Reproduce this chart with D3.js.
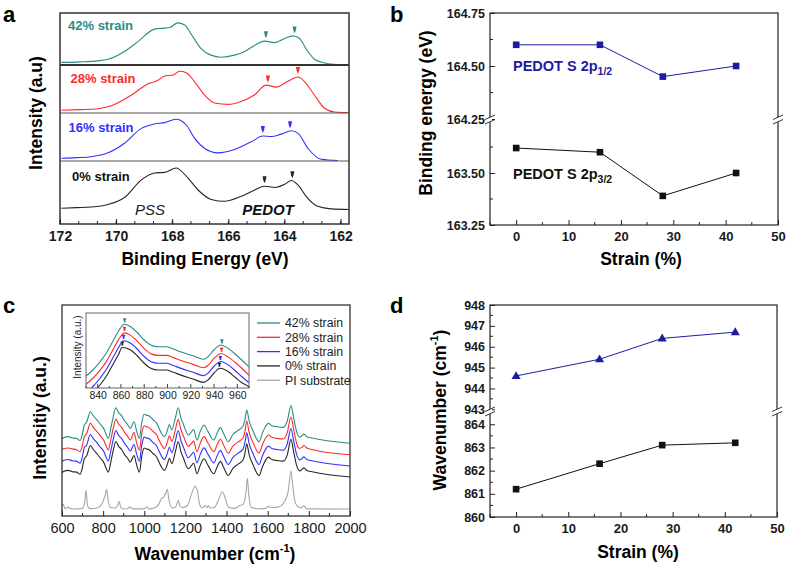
<!DOCTYPE html>
<html><head><meta charset="utf-8">
<script src="https://cdn.jsdelivr.net/npm/d3@7"></script>
<style>body{margin:0;background:#fff}svg{display:block;font-family:"Liberation Sans",Arial,sans-serif}</style>
</head><body><script>
// ---------------- DATA ----------------
// Panel a: XPS S2p spectra (binding energy eV, normalized intensity within strip)
const xps42 = [[171.95,0.05],[171.3,0.06],[170.65,0.08],[170.29,0.11],[169.70,0.26],[169.22,0.45],[168.63,0.69],[168.27,0.71],[168.09,0.72],[167.80,0.81],[167.56,0.77],[167.26,0.54],[166.98,0.32],[166.62,0.19],[166.26,0.15],[165.78,0.19],[165.42,0.26],[165.06,0.38],[164.71,0.46],[164.35,0.43],[163.99,0.51],[163.70,0.56],[163.46,0.51],[163.24,0.32],[162.93,0.11],[162.57,0.04],[162.10,0.01]];
const xps28 = [[171.95,0.056],[171.3,0.07],[170.65,0.09],[170.17,0.15],[169.46,0.37],[168.86,0.61],[168.51,0.68],[168.27,0.77],[167.97,0.79],[167.74,0.87],[167.50,0.84],[167.20,0.65],[166.84,0.37],[166.49,0.21],[166.01,0.18],[165.54,0.24],[165.06,0.38],[164.65,0.58],[164.29,0.54],[163.88,0.66],[163.52,0.75],[163.28,0.65],[162.93,0.37],[162.57,0.10],[162.21,0.02],[161.74,0.01]];
const xps16 = [[171.95,0.056],[171.4,0.07],[170.88,0.09],[170.29,0.17],[169.70,0.37],[169.10,0.68],[168.63,0.77],[168.27,0.80],[167.86,0.87],[167.50,0.75],[167.20,0.47],[166.84,0.26],[166.37,0.17],[165.78,0.24],[165.18,0.40],[164.77,0.52],[164.47,0.51],[164.12,0.56],[163.76,0.63],[163.52,0.58],[163.16,0.26],[162.69,0.035],[162.10,0.01]];
const xps0 = [[171.95,0.25],[171.4,0.26],[170.88,0.27],[170.29,0.31],[169.70,0.42],[169.10,0.70],[168.63,0.81],[168.27,0.82],[167.86,0.89],[167.50,0.76],[167.08,0.54],[166.61,0.39],[166.13,0.36],[165.54,0.44],[165.06,0.54],[164.71,0.60],[164.35,0.58],[163.99,0.63],[163.76,0.69],[163.52,0.62],[163.23,0.44],[162.81,0.28],[162.34,0.24],[161.69,0.23]];
const xpsLabels = ["42% strain","28% strain","16% strain","0% strain"];
const xpsMarks = [[164.66,163.64],[164.59,163.52],[164.77,163.80],[164.71,163.72]];
const xTicksA = [172,170,168,166,164,162];

// Panel b: binding energy vs strain
const strain = [0,16,28,42];
const be12 = [164.60,164.60,164.45,164.50];
const be32 = [163.62,163.60,163.39,163.50];
const yTicksBup = [164.25,164.50,164.75];
const yTicksBlo = [163.25,163.50];
const xTicksStrain = [0,10,20,30,40,50];

// Panel c: Raman spectra (wavenumber cm-1, a.u. incl. stacking)
const raman42 = [[600,36.5],[610,37.2],[630,37.6],[650,37],[670,36.8],[688,35.8],[698,38.5],[708,43],[720,44.5],[738,49.4],[752,47.5],[770,45.5],[790,43],[805,41],[815,38.5],[825,36.8],[838,42],[850,47.5],[862,51.3],[875,49],[890,47.5],[905,45],[918,43.5],[932,41.6],[950,44.7],[962,40.5],[976,36.8],[988,44.5],[999,48.2],[1010,47.8],[1022,47.5],[1044,45.5],[1060,44],[1072,41.5],[1088,38.5],[1098,37.6],[1112,40.5],[1122,43.4],[1134,40.8],[1150,46],[1165,51.3],[1178,46.5],[1192,43],[1214,38.4],[1230,40],[1240,41],[1256,36],[1272,40],[1290,43.1],[1310,40],[1338,36],[1355,39.5],[1370,41.9],[1386,39],[1408,35.2],[1430,38.5],[1455,40.5],[1480,42.5],[1490,46],[1498,50.2],[1510,45],[1530,40],[1558,35.2],[1575,39.5],[1590,42.5],[1603,43.9],[1620,42.8],[1645,42.3],[1676,42],[1695,45],[1713,52.3],[1726,46.5],[1742,39.5],[1755,37.4],[1766,38],[1776,38.8],[1790,37.6],[1810,37.1],[2000,34.5]];
const raman28 = [[600,31.5],[610,32],[630,32.2],[650,31.8],[670,31.4],[688,30.5],[698,33],[708,37.5],[720,39],[738,44],[752,42],[770,40],[790,37.5],[805,35.5],[815,33],[825,31.3],[838,36.5],[850,42],[862,46],[875,43.5],[890,42],[905,39.5],[918,38],[932,36],[950,39.5],[962,35],[976,31.2],[988,39],[999,42.8],[1010,42.3],[1022,42],[1044,40],[1060,38.5],[1072,36],[1088,33],[1098,32],[1112,35],[1122,38],[1134,35.3],[1150,40.5],[1165,45.8],[1178,41],[1192,37.5],[1214,33],[1230,34.5],[1240,35.5],[1256,30.5],[1272,34.5],[1290,37.6],[1310,34.5],[1338,30.5],[1355,34],[1370,36.4],[1386,33.5],[1408,29.8],[1430,33],[1455,35],[1480,37],[1490,40.5],[1498,45],[1510,39.5],[1530,34.5],[1558,29.8],[1575,34],[1590,37],[1603,38.4],[1620,37.3],[1645,36.8],[1676,36.5],[1695,39.5],[1713,46.9],[1726,41],[1742,34],[1755,32],[1766,32.5],[1776,33.4],[1790,32.2],[1810,31.6],[2000,29]];
const raman16 = [[600,25.8],[610,26.4],[630,26.8],[650,26.2],[670,26],[688,25],[698,27.7],[708,32.2],[720,33.7],[738,38.6],[752,36.7],[770,34.7],[790,32.2],[805,30.2],[815,27.7],[825,26],[838,31.2],[850,36.7],[862,40.5],[875,38.2],[890,36.7],[905,34.2],[918,32.7],[932,30.8],[950,33.9],[962,29.7],[976,26],[988,33.7],[999,37.4],[1010,37],[1022,36.7],[1044,34.7],[1060,33.2],[1072,30.7],[1088,27.7],[1098,26.8],[1112,29.7],[1122,32.6],[1134,30],[1150,35.2],[1165,40.5],[1178,35.7],[1192,32.2],[1214,27.6],[1230,29.2],[1240,30.2],[1256,25.2],[1272,29.2],[1290,32.3],[1310,29.2],[1338,25.2],[1355,28.7],[1370,31.1],[1386,28.2],[1408,24.4],[1430,27.7],[1455,29.7],[1480,31.7],[1490,35.2],[1498,39.4],[1510,34.2],[1530,29.2],[1558,24.4],[1575,28.7],[1590,31.7],[1603,33.1],[1620,32],[1645,31.5],[1676,31.2],[1695,34.2],[1713,41.5],[1726,35.7],[1742,28.7],[1755,26.6],[1766,27.2],[1776,28],[1790,26.8],[1810,26.3],[2000,23.7]];
const raman0 = [[600,20.5],[610,21.2],[630,21.6],[650,21],[670,20.8],[688,19.8],[698,22.5],[708,27],[720,28.5],[738,33.4],[752,31.5],[770,29.5],[790,27],[805,25],[815,22.5],[825,20.8],[838,26],[850,31.5],[862,35.3],[875,33],[890,31.5],[905,29],[918,27.5],[932,25.6],[950,28.7],[962,24.5],[976,20.8],[988,28.5],[999,32.2],[1010,31.8],[1022,31.5],[1044,29.5],[1060,28],[1072,25.5],[1088,22.5],[1098,21.6],[1112,24.5],[1122,27.4],[1134,24.8],[1150,30],[1165,35.3],[1178,30.5],[1192,27],[1214,22.4],[1230,24],[1240,25],[1256,20],[1272,24],[1290,27.1],[1310,24],[1338,20],[1355,23.5],[1370,25.9],[1386,23],[1408,19.2],[1430,22.5],[1455,24.5],[1480,26.5],[1490,30],[1498,34.2],[1510,29],[1530,24],[1558,19.2],[1575,23.5],[1590,26.5],[1603,27.9],[1620,26.8],[1645,26.3],[1676,26],[1695,29],[1713,36.3],[1726,30.5],[1742,23.5],[1755,21.4],[1766,22],[1776,22.8],[1790,21.6],[1810,21.1],[2000,18.5]];
const ramanPI = [[600,5],[606,5.5],[615,3.5],[630,4.2],[640,3.5],[660,3.3],[700,3.6],[710,6],[717,12.2],[724,5],[735,3.5],[770,3.8],[790,5],[800,7],[810,10],[817,12.6],[825,7],[835,4],[860,3.8],[870,5],[878,6.8],[886,4],[900,3.3],[920,3.6],[930,4.2],[945,3.4],[1000,3.4],[1012,4.4],[1022,3.4],[1050,3.8],[1070,5.5],[1085,8.5],[1095,9],[1105,11],[1112,12.6],[1120,7.5],[1135,3.8],[1150,4],[1160,6],[1166,7.4],[1172,5],[1185,4],[1210,5],[1230,10.5],[1247,14.1],[1258,12],[1268,6],[1280,3.8],[1296,4.8],[1305,4],[1312,5],[1320,3.8],[1340,4],[1360,7.5],[1380,11.5],[1395,8],[1410,4],[1440,3.6],[1460,4.8],[1480,5.5],[1494,11],[1501,17.9],[1508,10],[1520,4],[1560,3.4],[1590,3.6],[1603,4.6],[1620,4],[1650,4.2],[1680,6.5],[1700,12],[1713,21.3],[1722,14],[1735,6],[1760,3.8],[1776,4.8],[1790,3.4],[2000,3.3]];
const ramanLegend = ["42% strain","28% strain","16% strain","0% strain","PI substrate"];
const xTicksC = [600,800,1000,1200,1400,1600,1800,2000];
// inset
const inset42 = [[830,16],[836,24],[842,35],[848,48],[853,62],[858,76],[863,85],[868,82],[874,74],[880,64],[886,57],[892,55],[899,55],[905,52],[911,48.4],[922,43],[931,38.3],[935,42],[940,51],[946,57.3],[952,53],[959,44],[964,37],[970,28]];
const inset28 = [[830,5],[836,13],[842,23.5],[848,36.5],[853,50.5],[858,64.5],[863,73.5],[868,70.5],[874,62.5],[880,52.5],[886,45.5],[892,43.5],[899,43.5],[905,40.5],[911,37],[922,31.5],[931,27],[935,30.5],[940,39.5],[946,46],[952,41.5],[959,33],[964,26],[970,17]];
const inset16 = [[830,-6],[836,2],[842,13],[848,26],[853,40],[858,54],[862,63],[868,60],[874,52],[880,42],[886,35],[892,33],[899,33],[905,30],[911,26.5],[922,21],[931,16.5],[935,20],[940,29],[946,35.3],[952,31],[959,22],[964,15],[970,7]];
const inset0 = [[830,-15],[836,-6],[842,4],[848,17],[853,31],[858,45],[861,54],[868,51],[874,43],[880,33],[886,26],[892,24],[899,24],[905,21],[911,17.5],[922,12],[931,7.5],[935,11],[940,20],[945,26.3],[952,22],[959,13],[964,7],[970,2]];
const xTicksInset = [840,860,880,900,920,940,960];

// Panel d: Raman peak positions vs strain
const peak862 = [861.2,862.3,863.1,863.2];
const peak946 = [944.6,945.4,946.4,946.7];
const yTicksDup = [943,944,945,946,947,948];
const yTicksDlo = [860,861,862,863,864];

// ---------------- STYLE ----------------
const cTeal="#2b8c86", cRed="#ff2a2a", cBlue="#3030ff", cBlack="#262626", cGrey="#a6a6a6", cNavy="#1c1ca0";
const FONT='"Liberation Sans",Arial,sans-serif';

const svg = d3.select("body").append("svg").attr("width",787).attr("height",567);

function valAt(arr,x){ // linear read of a series at x
  const s = arr.slice().sort((a,b)=>a[0]-b[0]);
  const xs = s.map(d=>d[0]), ys = s.map(d=>d[1]);
  return d3.scaleLinear().domain(xs).range(ys)(x);
}
function styleAxis(g,size,weight){
  g.select(".domain").remove();
  g.selectAll(".tick line").attr("stroke","#222");
  g.selectAll("text").attr("font-family",FONT).attr("font-size",size).attr("font-weight",weight).attr("fill","#1a1a1a");
}
function panelLetter(t,x,y){svg.append("text").attr("x",x).attr("y",y).text(t).attr("font-size",22).attr("font-weight","bold").attr("font-family",FONT);}
function downMark(g,x,y,color){ // small down-pointing arrow mark with tip at (x,y)
  g.append("path").attr("d",`M${x-2},${y-7}L${x+2},${y-7}L${x+1.2},${y-3}L${x},${y}L${x-1.2},${y-3}Z`).attr("fill",color);
}

// ---------------- PANEL A ----------------
{
  const g = svg.append("g");
  const xA = d3.scaleLinear().domain([172,161.7]).range([60,349]);
  const bounds = [[13,65],[65,113],[113,161],[161,224]];
  const series = [xps42,xps28,xps16,xps0];
  const cols = [cTeal,cRed,cBlue,cBlack];
  const labelPos = [[68,29.5],[70.5,82.5],[68.5,131.5],[72,181]];
  series.forEach((s,i)=>{
    const y = d3.scaleLinear().domain([0,1]).range([bounds[i][1],bounds[i][0]]);
    g.append("path").datum(s).attr("fill","none").attr("stroke",cols[i]).attr("stroke-width",1.1)
      .attr("d",d3.line().x(d=>xA(d[0])).y(d=>y(d[1])).curve(d3.curveMonotoneX));
    xpsMarks[i].forEach(e=>downMark(g,xA(e),y(valAt(s,e))-3,cols[i]));
    g.append("text").attr("x",labelPos[i][0]).attr("y",labelPos[i][1]).text(xpsLabels[i])
      .attr("fill",i==3?"#111":cols[i]).attr("font-size",13).attr("font-weight","bold").attr("font-family",FONT);
  });
  g.append("line").attr("x1",60).attr("x2",349).attr("y1",65).attr("y2",65).attr("stroke","#333").attr("stroke-width",2);
  g.append("line").attr("x1",60).attr("x2",349).attr("y1",113).attr("y2",113).attr("stroke","#555").attr("stroke-width",1);
  g.append("line").attr("x1",60).attr("x2",349).attr("y1",161).attr("y2",161).attr("stroke","#555").attr("stroke-width",1);
  g.append("rect").attr("x",60).attr("y",13).attr("width",289).attr("height",211).attr("fill","none").attr("stroke","#333").attr("stroke-width",1.5);
  // minor ticks
  d3.range(0,16).map(i=>172-i*2/3).filter(v=>v>161.7).forEach(v=>{
    g.append("line").attr("x1",xA(v)).attr("x2",xA(v)).attr("y1",224).attr("y2",221).attr("stroke","#222");
  });
  const ax = g.append("g").attr("transform","translate(0,224)")
    .call(d3.axisBottom(xA).tickValues(xTicksA).tickFormat(d3.format("d")).tickSizeInner(-5).tickSizeOuter(0).tickPadding(7));
  styleAxis(ax,14,"bold");
  g.append("text").attr("x",150).attr("y",215).text("PSS").attr("font-style","italic").attr("font-size",15).attr("font-family",FONT).attr("text-anchor","middle").attr("fill","#222");
  g.append("text").attr("x",268).attr("y",215).text("PEDOT").attr("font-style","italic").attr("font-weight","bold").attr("font-size",15).attr("font-family",FONT).attr("text-anchor","middle").attr("fill","#111");
  g.append("text").attr("x",205).attr("y",265).text("Binding Energy (eV)").attr("font-size",17.5).attr("font-weight","bold").attr("font-family",FONT).attr("text-anchor","middle");
  g.append("text").attr("transform","translate(42,113) rotate(-90)").text("Intensity (a.u)").attr("font-size",17.5).attr("font-weight","bold").attr("font-family",FONT).attr("text-anchor","middle");
  panelLetter("a",3,22);
}

// ---------------- broken-axis scatter panel helper ----------------
function brokenPanel(opts){
  const g = svg.append("g");
  const {x0,x1,top,bot,brk,upDom,loDom,upRange,loRange} = opts;
  const x = d3.scaleLinear().domain([-5,50]).range([x0,x1]);
  const yU = d3.scaleLinear().domain(upDom).range(upRange);
  const yL = d3.scaleLinear().domain(loDom).range(loRange);
  g.append("rect").attr("x",x0).attr("y",top).attr("width",x1-x0).attr("height",bot-top).attr("fill","none").attr("stroke","#333").attr("stroke-width",1.3);
  const axU = g.append("g").attr("transform",`translate(${x0},0)`).call(d3.axisLeft(yU).tickValues(opts.upTicks).tickFormat(opts.fmt).tickSizeInner(-5).tickSizeOuter(0).tickPadding(5));
  const axL = g.append("g").attr("transform",`translate(${x0},0)`).call(d3.axisLeft(yL).tickValues(opts.loTicks).tickFormat(opts.fmt).tickSizeInner(-5).tickSizeOuter(0).tickPadding(5));
  styleAxis(axU,12.5,"bold"); styleAxis(axL,12.5,"bold");
  opts.upMinor.forEach(v=>g.append("line").attr("x1",x0).attr("x2",x0+3).attr("y1",yU(v)).attr("y2",yU(v)).attr("stroke","#222"));
  opts.loMinor.forEach(v=>g.append("line").attr("x1",x0).attr("x2",x0+3).attr("y1",yL(v)).attr("y2",yL(v)).attr("stroke","#222"));
  const axX = g.append("g").attr("transform",`translate(0,${bot})`).call(d3.axisBottom(x).tickValues(xTicksStrain).tickSizeInner(-5).tickSizeOuter(0).tickPadding(7));
  styleAxis(axX,13,"bold");
  [-5,5,15,25,35,45].forEach(v=>g.append("line").attr("x1",x(v)).attr("x2",x(v)).attr("y1",bot).attr("y2",bot-3).attr("stroke","#222"));
  [x0,x1].forEach(xx=>{
    g.append("rect").attr("x",xx-2).attr("y",brk-3).attr("width",4).attr("height",5).attr("fill","#fff");
    g.append("line").attr("x1",xx-5).attr("x2",xx+5).attr("y1",brk-0.5).attr("y2",brk-5).attr("stroke","#333");
    g.append("line").attr("x1",xx-5).attr("x2",xx+5).attr("y1",brk+4).attr("y2",brk-0.5).attr("stroke","#333");
  });
  const lineU = d3.line().x((d,i)=>x(strain[i])).y(d=>yU(d));
  const lineL = d3.line().x((d,i)=>x(strain[i])).y(d=>yL(d));
  g.append("path").datum(opts.up).attr("d",lineU).attr("fill","none").attr("stroke",cNavy).attr("stroke-width",1);
  g.append("path").datum(opts.lo).attr("d",lineL).attr("fill","none").attr("stroke","#111").attr("stroke-width",1);
  opts.up.forEach((v,i)=>{
    if(opts.upSym==="tri") g.append("path").attr("d",d3.symbol(d3.symbolTriangle,36)()).attr("transform",`translate(${x(strain[i])},${yU(v)+0.5})`).attr("fill",cNavy);
    else g.append("rect").attr("x",x(strain[i])-3.3).attr("y",yU(v)-3.3).attr("width",6.6).attr("height",6.6).attr("fill",cNavy);
  });
  opts.lo.forEach((v,i)=>g.append("rect").attr("x",x(strain[i])-3.3).attr("y",yL(v)-3.3).attr("width",6.6).attr("height",6.6).attr("fill","#111"));
  return {g,x,yU,yL};
}

// ---------------- PANEL B ----------------
{
  const p = brokenPanel({x0:490,x1:778,top:13,bot:225,brk:120,upDom:[164.25,164.75],upRange:[119,13],loDom:[163.25,163.75],loRange:[225,121],
    upTicks:yTicksBup,loTicks:yTicksBlo,fmt:d3.format(".2f"),upMinor:[164.375,164.625],loMinor:[163.375,163.625],up:be12,lo:be32,upSym:"sq"});
  const g=p.g;
  const t1 = g.append("text").attr("x",513).attr("y",71).attr("fill",cNavy).attr("font-size",14.5).attr("font-weight","bold").attr("font-family",FONT);
  t1.append("tspan").text("PEDOT S 2p"); t1.append("tspan").text("1/2").attr("font-size",10.5).attr("dy",4);
  const t2 = g.append("text").attr("x",513).attr("y",178.5).attr("fill","#111").attr("font-size",14.5).attr("font-weight","bold").attr("font-family",FONT);
  t2.append("tspan").text("PEDOT S 2p"); t2.append("tspan").text("3/2").attr("font-size",10.5).attr("dy",4);
  g.append("text").attr("x",641).attr("y",265).text("Strain (%)").attr("font-size",17.5).attr("font-weight","bold").attr("font-family",FONT).attr("text-anchor","middle");
  g.append("text").attr("transform","translate(432,113) rotate(-90)").text("Binding energy (eV)").attr("font-size",17.5).attr("font-weight","bold").attr("font-family",FONT).attr("text-anchor","middle");
  panelLetter("b",390,22);
}

// ---------------- PANEL C ----------------
{
  const g = svg.append("g");
  const xC = d3.scaleLinear().domain([600,2000]).range([62,350]);
  const yC = d3.scaleLinear().domain([0,100]).range([516,305]);
  const series=[ramanPI,raman0,raman16,raman28,raman42];
  const cols=[cGrey,cBlack,cBlue,cRed,cTeal];
  const line = d3.line().x(d=>xC(d[0])).y(d=>yC(d[1])).curve(d3.curveMonotoneX);
  series.forEach((s,i)=>g.append("path").datum(s).attr("d",line).attr("fill","none").attr("stroke",cols[i]).attr("stroke-width",1.1));
  g.append("rect").attr("x",62).attr("y",305).attr("width",288).attr("height",211).attr("fill","none").attr("stroke","#333").attr("stroke-width",1.3);
  d3.range(700,2000,200).forEach(v=>g.append("line").attr("x1",xC(v)).attr("x2",xC(v)).attr("y1",516).attr("y2",513).attr("stroke","#222"));
  const ax = g.append("g").attr("transform","translate(0,516)").call(d3.axisBottom(xC).tickValues(xTicksC).tickFormat(d3.format("d")).tickSizeInner(-5).tickSizeOuter(0).tickPadding(7));
  styleAxis(ax,14.5,"normal");
  const tx = g.append("text").attr("x",215).attr("y",560).attr("font-size",17.5).attr("font-weight","bold").attr("font-family",FONT).attr("text-anchor","middle");
  tx.append("tspan").text("Wavenumber (cm"); tx.append("tspan").text("-1").attr("font-size",11).attr("dy",-8); tx.append("tspan").text(")").attr("dy",8);
  g.append("text").attr("transform","translate(46,418) rotate(-90)").text("Intensitiy (a.u.)").attr("font-size",17.5).attr("font-weight","bold").attr("font-family",FONT).attr("text-anchor","middle");
  const lcols=[cTeal,cRed,cBlue,cBlack,cGrey];
  ramanLegend.forEach((t,i)=>{
    const yy = 323+i*14.3;
    g.append("line").attr("x1",257).attr("x2",280).attr("y1",yy).attr("y2",yy).attr("stroke",lcols[i]).attr("stroke-width",1.3);
    g.append("text").attr("x",285).attr("y",yy+4.3).text(t).attr("font-size",12.3).attr("font-family",FONT).attr("fill","#222");
  });
  const gi = g.append("g");
  const xI = d3.scaleLinear().domain([830,970]).range([86,249]);
  const yI = d3.scaleLinear().domain([0,100]).range([388,313]);
  gi.append("clipPath").attr("id","clipI").append("rect").attr("x",86).attr("y",313).attr("width",163).attr("height",75);
  const iseries=[inset0,inset16,inset28,inset42];
  const icols=[cBlack,cBlue,cRed,cTeal];
  const iline=d3.line().x(d=>xI(d[0])).y(d=>yI(d[1])).curve(d3.curveMonotoneX);
  const ic = gi.append("g").attr("clip-path","url(#clipI)");
  iseries.forEach((s,i)=>{
    ic.append("path").datum(s).attr("d",iline).attr("fill","none").attr("stroke",icols[i]).attr("stroke-width",1.1);
    [peak862[i],peak946[i]].forEach(p=>{
      const yy=yI(valAt(s,p))-2;
      ic.append("rect").attr("x",xI(p)-0.9).attr("y",yy-4).attr("width",1.8).attr("height",4).attr("fill",icols[i]);
      ic.append("rect").attr("x",xI(p)-1.6).attr("y",yy-4).attr("width",3.2).attr("height",1.4).attr("fill",icols[i]);
    });
  });
  gi.append("rect").attr("x",86).attr("y",313).attr("width",163).attr("height",75).attr("fill","none").attr("stroke","#666").attr("stroke-width",1);
  d3.range(830,971,10).forEach(v=>gi.append("line").attr("x1",xI(v)).attr("x2",xI(v)).attr("y1",388).attr("y2",v%20===0?384:386).attr("stroke","#444"));
  const axi = gi.append("g").attr("transform","translate(0,388)").call(d3.axisBottom(xI).tickValues(xTicksInset).tickSize(0).tickPadding(4));
  styleAxis(axi,10.5,"normal");
  gi.append("text").attr("transform","translate(81,347) rotate(-90)").text("Intensity (a.u.)").attr("font-size",10).attr("font-family",FONT).attr("text-anchor","middle").attr("fill","#222");
  panelLetter("c",3,313);
}

// ---------------- PANEL D ----------------
{
  const p = brokenPanel({x0:490,x1:777,top:305,bot:517,brk:412,upDom:[943,948],upRange:[409.3,305],loDom:[860,864.4],loRange:[517,415],
    upTicks:yTicksDup,loTicks:yTicksDlo,fmt:d3.format("d"),upMinor:[943.5,944.5,945.5,946.5,947.5],loMinor:[860.5,861.5,862.5,863.5],up:peak946,lo:peak862,upSym:"tri"});
  const g=p.g;
  g.append("text").attr("x",638).attr("y",558).text("Strain (%)").attr("font-size",17.5).attr("font-weight","bold").attr("font-family",FONT).attr("text-anchor","middle");
  const ty = g.append("text").attr("transform","translate(446,410) rotate(-90)").attr("font-size",17.5).attr("font-weight","bold").attr("font-family",FONT).attr("text-anchor","middle");
  ty.append("tspan").text("Wavenumber (cm"); ty.append("tspan").text("-1").attr("font-size",11).attr("dy",-8); ty.append("tspan").text(")").attr("dy",8);
  panelLetter("d",390,313);
}
</script></body></html>
